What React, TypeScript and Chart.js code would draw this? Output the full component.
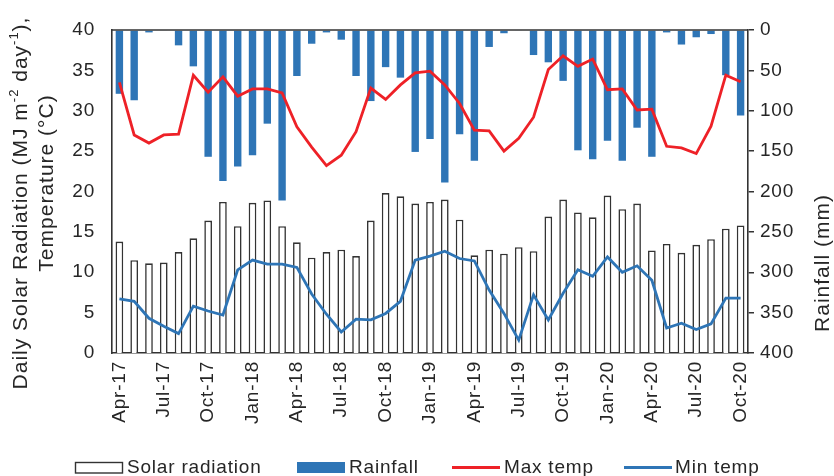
import React, { useEffect, useRef } from 'react';
import { Chart, registerables } from 'chart.js';

Chart.register(...registerables);

// ---------- data ----------
const months = [
  'Apr-17', 'May-17', 'Jun-17', 'Jul-17', 'Aug-17', 'Sep-17', 'Oct-17', 'Nov-17', 'Dec-17',
  'Jan-18', 'Feb-18', 'Mar-18', 'Apr-18', 'May-18', 'Jun-18', 'Jul-18', 'Aug-18', 'Sep-18',
  'Oct-18', 'Nov-18', 'Dec-18', 'Jan-19', 'Feb-19', 'Mar-19', 'Apr-19', 'May-19', 'Jun-19',
  'Jul-19', 'Aug-19', 'Sep-19', 'Oct-19', 'Nov-19', 'Dec-19', 'Jan-20', 'Feb-20', 'Mar-20',
  'Apr-20', 'May-20', 'Jun-20', 'Jul-20', 'Aug-20', 'Sep-20', 'Oct-20',
];
const tickEvery = 3;

const solarRadiation = [
  13.8, 11.5, 11.1, 11.2, 12.5, 14.2, 16.4, 18.7, 15.7, 18.6, 18.9, 15.7, 13.7, 11.8,
  12.5, 12.8, 12.0, 16.4, 19.8, 19.4, 18.5, 18.7, 19.0, 16.5, 12.1, 12.8, 12.3, 13.1,
  12.6, 16.9, 19.0, 17.4, 16.8, 19.5, 17.8, 18.5, 12.7, 13.5, 12.4, 13.4, 14.1, 15.4, 15.8,
];
const rainfall = [
  79, 87, 3, 1, 19, 45, 157, 187, 169, 155, 116, 211, 57, 17,
  3, 12, 57, 88, 46, 59, 151, 135, 189, 129, 162, 21, 4, 1,
  31, 40, 63, 149, 160, 137, 162, 121, 157, 3, 18, 9, 5, 56, 106,
];
const maxTemp = [
  33.5, 27.0, 26.0, 27.0, 27.1, 34.4, 32.3, 34.2, 31.8, 32.7, 32.7, 32.2, 28.0, 25.5,
  23.2, 24.5, 27.4, 32.8, 31.4, 33.2, 34.7, 34.9, 33.2, 30.9, 27.6, 27.5, 25.0, 26.6,
  29.2, 35.1, 36.8, 35.5, 36.4, 32.6, 32.7, 30.1, 30.2, 25.6, 25.4, 24.7, 28.1, 34.4, 33.6,
];
const minTemp = [
  6.7, 6.4, 4.3, 3.3, 2.4, 5.8, 5.2, 4.7, 10.3, 11.5, 11.0, 11.0, 10.6, 7.3,
  4.8, 2.6, 4.2, 4.1, 4.9, 6.4, 11.5, 12.0, 12.6, 11.7, 11.4, 7.8, 4.9, 1.6,
  7.2, 4.1, 7.4, 10.3, 9.5, 11.9, 10.0, 10.8, 9.0, 3.1, 3.7, 2.9, 3.6, 6.8, 6.8,
];

const leftMin = 0;
const leftMax = 40;
const leftStep = 5;
const rightMin = 0;
const rightMax = 400;
const rightStep = 50;

const leftTitle1 = [
  { t: 'Daily Solar Radiation (MJ m' },
  { t: '-2', sup: true },
  { t: ' day' },
  { t: '-1', sup: true },
  { t: '),' },
];
const leftTitle2 = 'Temperature (°C)';
const rightTitle = 'Rainfall (mm)';
const legendLabels = ['Solar radiation', 'Rainfall', 'Max temp', 'Min temp'];

// ---------- styles ----------
const FONT = '"Liberation Sans", Arial, Helvetica, sans-serif';
const SPACING = '0.8px';
const TITLE_SPACING = '1px';
const TEXT = '#262626';
const AXIS = '#333333';
const BLUE = '#2E75B6';
const RED = '#EE2127';

function setSpacing(ctx: any, v: string) {
  try {
    ctx.letterSpacing = v;
  } catch (e) {
    /* ignore */
  }
}

function drawRich(ctx: CanvasRenderingContext2D, segs: any[], cx: number, cy: number, size: number) {
  ctx.save();
  ctx.translate(cx, cy);
  ctx.rotate(-Math.PI / 2);
  ctx.textBaseline = 'middle';
  ctx.textAlign = 'left';
  ctx.fillStyle = TEXT;
  setSpacing(ctx, TITLE_SPACING);
  const supSize = Math.round(size * 0.62);
  let total = 0;
  const widths: number[] = [];
  for (const s of segs) {
    ctx.font = `${s.sup ? supSize : size}px ${FONT}`;
    const w = ctx.measureText(s.t).width;
    widths.push(w);
    total += w;
  }
  let x = -total / 2;
  segs.forEach((s: any, i: number) => {
    ctx.font = `${s.sup ? supSize : size}px ${FONT}`;
    ctx.fillText(s.t, x, s.sup ? -size * 0.32 : 0);
    x += widths[i];
  });
  ctx.restore();
}

const spacingPlugin = {
  id: 'letterSpacing',
  beforeUpdate(chart: any) {
    setSpacing(chart.ctx, SPACING);
  },
  beforeLayout(chart: any) {
    setSpacing(chart.ctx, SPACING);
  },
  beforeDraw(chart: any) {
    setSpacing(chart.ctx, SPACING);
  },
};

const decorPlugin = {
  id: 'decor',
  afterDraw(chart: any) {
    const ctx: CanvasRenderingContext2D = chart.ctx;
    const area = chart.chartArea;
    // top border of plot area
    ctx.save();
    ctx.strokeStyle = AXIS;
    ctx.lineWidth = 1.5;
    ctx.beginPath();
    ctx.moveTo(area.left, area.top);
    ctx.lineTo(area.right, area.top);
    ctx.stroke();
    ctx.restore();

    // axis titles
    drawRich(ctx, leftTitle1, 21, 203, 21);
    drawRich(ctx, [{ t: leftTitle2 }], 47, 183, 21);
    drawRich(ctx, [{ t: rightTitle }], 823, 263, 21);

    // legend
    ctx.save();
    setSpacing(ctx, SPACING);
    ctx.font = `19px ${FONT}`;
    ctx.fillStyle = TEXT;
    ctx.textBaseline = 'alphabetic';
    ctx.textAlign = 'left';
    const base = 473;
    const midY = 467.5;
    // solar radiation box
    ctx.strokeStyle = AXIS;
    ctx.lineWidth = 1.4;
    ctx.strokeRect(75.5, 462.5, 47, 10.5);
    ctx.fillText(legendLabels[0], 127, base);
    // rainfall box
    ctx.fillStyle = BLUE;
    ctx.fillRect(297, 462, 48, 11);
    ctx.fillStyle = TEXT;
    ctx.fillText(legendLabels[1], 349, base);
    // max temp
    ctx.strokeStyle = RED;
    ctx.lineWidth = 2.8;
    ctx.beginPath();
    ctx.moveTo(452, midY);
    ctx.lineTo(500, midY);
    ctx.stroke();
    ctx.fillText(legendLabels[2], 504, base);
    // min temp
    ctx.strokeStyle = BLUE;
    ctx.beginPath();
    ctx.moveTo(624, midY);
    ctx.lineTo(672, midY);
    ctx.stroke();
    ctx.fillText(legendLabels[3], 675, base);
    ctx.restore();
  },
};

export default function App() {
  const ref = useRef<HTMLCanvasElement | null>(null);

  useEffect(() => {
    const canvas = ref.current;
    if (!canvas) return;
    const tickFont = { family: FONT, size: 19 };
    const chart = new Chart(canvas, {
      data: {
        labels: months,
        datasets: [
          {
            type: 'line',
            label: legendLabels[3],
            data: minTemp,
            yAxisID: 'y',
            borderColor: BLUE,
            borderWidth: 2.8,
            pointRadius: 0,
            tension: 0,
            order: 0,
          },
          {
            type: 'line',
            label: legendLabels[2],
            data: maxTemp,
            yAxisID: 'y',
            borderColor: RED,
            borderWidth: 2.8,
            pointRadius: 0,
            tension: 0,
            order: 1,
          },
          {
            type: 'bar',
            label: legendLabels[1],
            data: rainfall,
            yAxisID: 'y1',
            backgroundColor: BLUE,
            borderWidth: 0,
            barPercentage: 0.5,
            categoryPercentage: 1,
            grouped: false,
            order: 2,
          },
          {
            type: 'bar',
            label: legendLabels[0],
            data: solarRadiation,
            yAxisID: 'y',
            backgroundColor: '#ffffff',
            borderColor: AXIS,
            borderWidth: 1.6,
            barPercentage: 0.52,
            categoryPercentage: 1,
            grouped: false,
            order: 3,
          },
        ] as any,
      },
      options: {
        responsive: false,
        animation: false,
        events: [],
        layout: { padding: { top: 30, left: 0, right: 0, bottom: 0 } },
        plugins: {
          legend: { display: false },
          tooltip: { enabled: false },
          title: { display: false },
        },
        scales: {
          x: {
            type: 'category',
            offset: true,
            grid: { display: false, drawTicks: false },
            border: { display: true, color: AXIS, width: 1.6 },
            ticks: {
              autoSkip: false,
              minRotation: 90,
              maxRotation: 90,
              padding: 8,
              color: TEXT,
              font: tickFont,
              callback: (_v: any, i: number) => (i % tickEvery === 0 ? months[i] : ''),
            },
            afterFit: (s: any) => {
              s.height = 123;
            },
          },
          y: {
            type: 'linear',
            position: 'left',
            min: leftMin,
            max: leftMax,
            grid: { display: false, drawTicks: false },
            border: { display: true, color: AXIS, width: 1.6 },
            ticks: { stepSize: leftStep, padding: 17, color: TEXT, font: tickFont },
            afterFit: (s: any) => {
              s.width = 112;
            },
          },
          y1: {
            type: 'linear',
            position: 'right',
            min: rightMin,
            max: rightMax,
            reverse: true,
            grid: {
              display: true,
              drawOnChartArea: false,
              drawTicks: true,
              tickLength: 6,
              color: AXIS,
              lineWidth: 1.5,
            },
            border: { display: true, color: AXIS, width: 1.6 },
            ticks: { stepSize: rightStep, padding: 6, color: TEXT, font: tickFont },
            afterFit: (s: any) => {
              s.width = 86;
            },
          },
        },
      } as any,
      plugins: [spacingPlugin, decorPlugin],
    });
    return () => chart.destroy();
  }, []);

  return (
    <div style={{ position: 'fixed', left: 0, top: 0, width: 834, height: 476, background: '#ffffff' }}>
      <canvas ref={ref} width={834} height={476} style={{ display: 'block', width: 834, height: 476 }} />
    </div>
  );
}
